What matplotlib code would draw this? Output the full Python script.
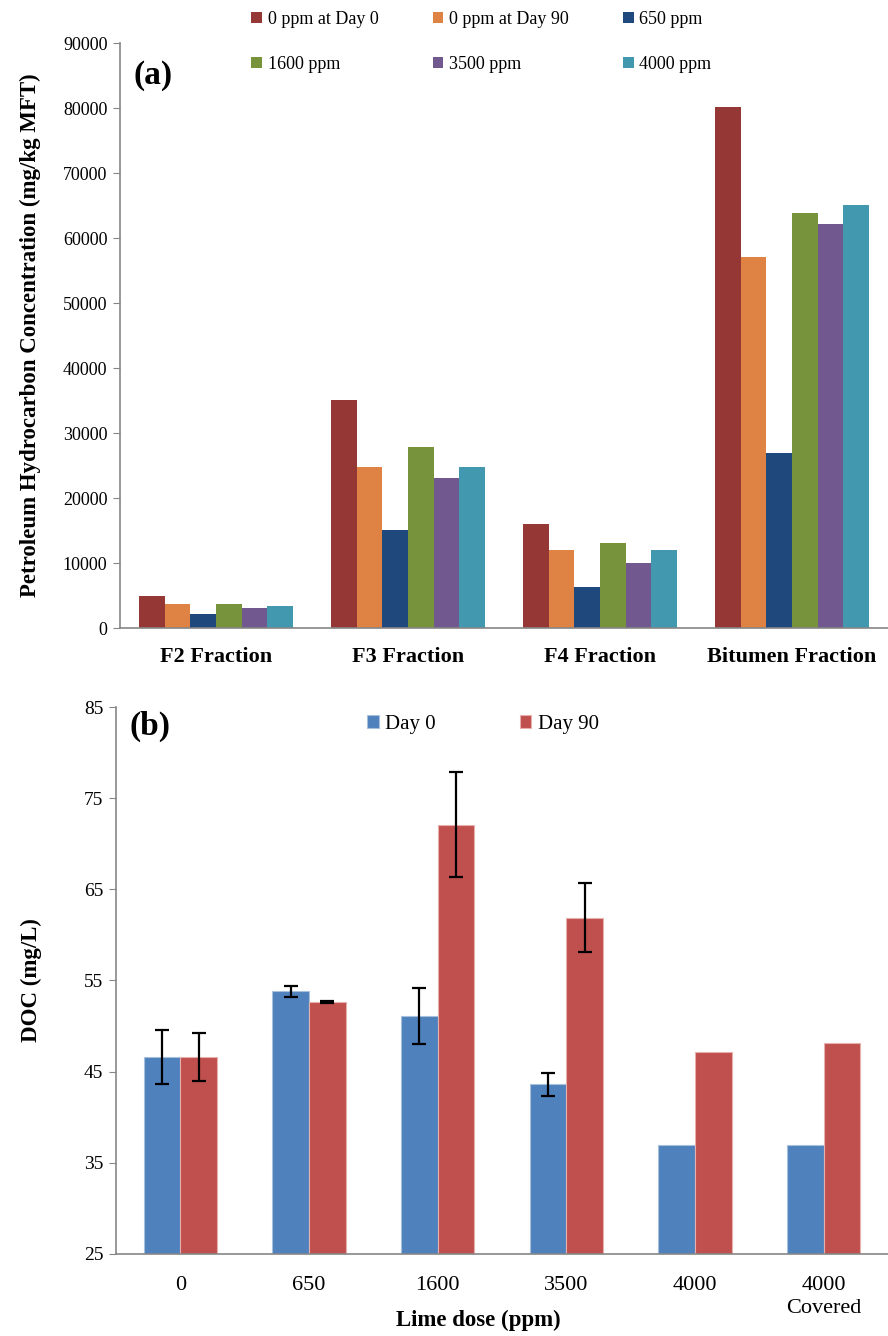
import numpy as np
import matplotlib
matplotlib.use("Agg")
import matplotlib.pyplot as plt

plt.rcParams['font.family'] = ['Liberation Serif', 'DejaVu Serif']

# (a) petroleum hydrocarbon fractions
fractions = ['F2 Fraction', 'F3 Fraction', 'F4 Fraction', 'Bitumen Fraction']
series_a = ['0 ppm at Day 0', '0 ppm at Day 90', '650 ppm', '1600 ppm', '3500 ppm', '4000 ppm']
colors_a = ['#953735', '#DF8344', '#1F497D', '#77933C', '#71588F', '#4198AF']
day0_0ppm = [4900, 35100, 16000, 80100]
day90_0ppm = [3700, 24800, 12000, 57100]
ppm650 = [2150, 15100, 6300, 26900]
ppm1600 = [3700, 27800, 13100, 63800]
ppm3500 = [3100, 23100, 10000, 62200]
ppm4000 = [3350, 24800, 12000, 65100]
values_a = [day0_0ppm, day90_0ppm, ppm650, ppm1600, ppm3500, ppm4000]

# (b) DOC vs lime dose
doses = ['0', '650', '1600', '3500', '4000', '4000\nCovered']
doc_day0 = [46.6, 53.8, 51.1, 43.6, 37.0, 37.0]
doc_day90 = [46.6, 52.6, 72.1, 61.9, 47.2, 48.1]
err_day0 = [3.0, 0.6, 3.05, 1.3, 0, 0]
err_day90 = [2.6, 0.1, 5.75, 3.75, 0, 0]

fig = plt.figure(figsize=(8.88, 13.36), dpi=100)
axis_grey = '#868686'

# ---- panel (a)
ax1 = fig.add_axes([0.1351, 0.5299, 0.8649, 0.4379])
x = np.arange(len(fractions))
w = 0.134
for j, (name, vals, c) in enumerate(zip(series_a, values_a, colors_a)):
    ax1.bar(x + (j - 2.5) * w, vals, width=w, color=c, label=name)
ax1.set_xlim(-0.5, len(fractions) - 0.5)
ax1.set_ylim(0, 90000)
ax1.set_yticks(np.arange(0, 90001, 10000))
ax1.set_xticks(x)
ax1.set_xticklabels(fractions, fontsize=16, fontweight='bold')
ax1.tick_params(axis='x', length=0, pad=14)
ax1.tick_params(axis='y', labelsize=13, length=5, color=axis_grey, pad=4)
ax1.set_ylabel('Petroleum Hydrocarbon Concentration (mg/kg MFT)', fontsize=16.5,
               fontweight='bold', labelpad=16)
ax1.text(0.018, 0.945, '(a)', transform=ax1.transAxes, fontsize=24, fontweight='bold',
         va='center')
for s in ['top', 'right']:
    ax1.spines[s].set_visible(False)
for s in ['left', 'bottom']:
    ax1.spines[s].set_color(axis_grey)
    ax1.spines[s].set_linewidth(1.2)
# legend filled row by row, like the original
h, l = ax1.get_legend_handles_labels()
order = [0, 3, 1, 4, 2, 5]
ax1.legend([h[i] for i in order], [l[i] for i in order], ncol=3, loc='upper left',
           bbox_to_anchor=(0.15, 1.083), frameon=False,
           fontsize=13, handlelength=0.6, handleheight=0.6, handletextpad=0.3,
           columnspacing=3.0, labelspacing=1.55)

# ---- panel (b)
ax2 = fig.add_axes([0.1306, 0.0614, 0.8694, 0.4094])
xb = np.arange(len(doses))
wb = 0.285
ekw = dict(ecolor='black', elinewidth=1.6, capsize=5, capthick=1.6)
e0 = [e if e > 0 else np.nan for e in err_day0]
e9 = [e if e > 0 else np.nan for e in err_day90]
ax2.bar(xb - wb / 2, doc_day0, width=wb, color='#4F81BD', edgecolor='#A7C0DE',
        linewidth=0.8, label='Day 0', yerr=e0, error_kw=ekw)
ax2.bar(xb + wb / 2, doc_day90, width=wb, color='#C0504D', edgecolor='#E6B0AE',
        linewidth=0.8, label='Day 90', yerr=e9, error_kw=ekw)
ax2.set_xlim(-0.5, len(doses) - 0.5)
ax2.set_ylim(25, 85)
ax2.set_yticks(np.arange(25, 86, 10))
ax2.set_xticks(xb)
ax2.set_xticklabels(doses, fontsize=16, linespacing=1.25)
ax2.tick_params(axis='x', length=0, pad=16)
ax2.tick_params(axis='y', labelsize=14, length=5, color=axis_grey, pad=4)
ax2.set_ylabel('DOC (mg/L)', fontsize=16.5, fontweight='bold', labelpad=30)
ax2.set_xlabel('Lime dose (ppm)', fontsize=16.5, fontweight='bold')
ax2.xaxis.set_label_coords(0.469, -0.102)
ax2.text(0.018, 0.965, '(b)', transform=ax2.transAxes, fontsize=24, fontweight='bold',
         va='center')
for s in ['top', 'right']:
    ax2.spines[s].set_visible(False)
for s in ['left', 'bottom']:
    ax2.spines[s].set_color(axis_grey)
    ax2.spines[s].set_linewidth(1.2)
ax2.legend(ncol=2, loc='upper left', bbox_to_anchor=(0.301, 1.02), frameon=False,
           fontsize=15, handlelength=0.55, handleheight=0.55, handletextpad=0.3,
           columnspacing=4.05)

fig.savefig('out.png', dpi=100)
